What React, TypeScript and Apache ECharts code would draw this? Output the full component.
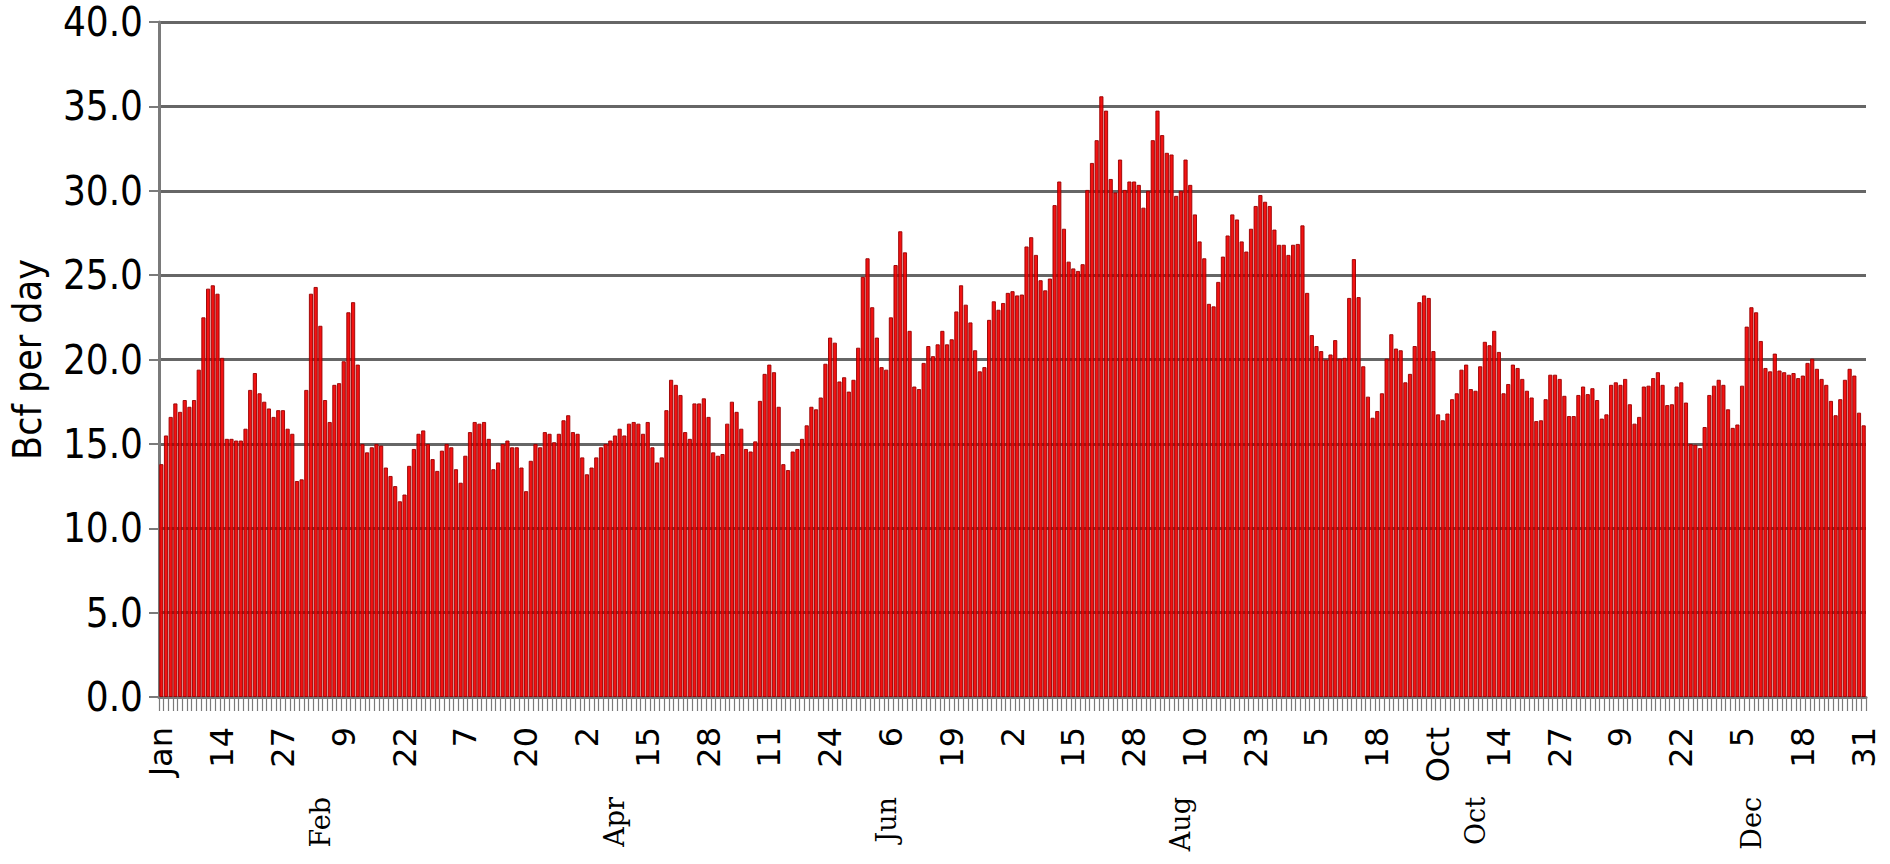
import React, { useEffect, useRef } from "react";
import * as echarts from "echarts";

// ---- data ----
const monthNames = ["Jan", "Feb", "Mar", "Apr", "May", "Jun", "Jul", "Aug", "Sep", "Oct", "Nov", "Dec"];
const monthDays = [31, 28, 31, 30, 31, 30, 31, 31, 30, 31, 30, 31];

const janValues = [13.8, 15.5, 16.6, 17.4, 16.9, 17.6, 17.2, 17.6, 19.4, 22.5, 24.2, 24.4, 23.9, 20.1, 15.3, 15.3, 15.2, 15.2, 15.9, 18.2, 19.2, 18.0, 17.5, 17.1, 16.6, 17.0, 17.0, 15.9, 15.6, 12.8, 12.9];
const febValues = [18.2, 23.9, 24.3, 22.0, 17.6, 16.3, 18.5, 18.6, 19.9, 22.8, 23.4, 19.7, 15.0, 14.5, 14.8, 15.0, 14.9, 13.6, 13.1, 12.5, 11.6, 12.0, 13.7, 14.7, 15.6, 15.8, 15.0, 14.1];
const marValues = [13.4, 14.6, 15.0, 14.8, 13.5, 12.7, 14.3, 15.7, 16.3, 16.2, 16.3, 15.3, 13.5, 13.9, 15.0, 15.2, 14.8, 14.8, 13.6, 12.2, 14.0, 15.0, 14.8, 15.7, 15.6, 15.1, 15.6, 16.4, 16.7, 15.7, 15.6];
const aprValues = [14.2, 13.2, 13.6, 14.2, 14.8, 15.0, 15.2, 15.5, 15.9, 15.5, 16.2, 16.3, 16.2, 15.6, 16.3, 14.8, 13.9, 14.2, 17.0, 18.8, 18.5, 17.9, 15.7, 15.3, 17.4, 17.4, 17.7, 16.6, 14.5, 14.3];
const mayValues = [14.4, 16.2, 17.5, 16.9, 15.9, 14.7, 14.55, 15.15, 17.55, 19.15, 19.7, 19.25, 17.2, 13.8, 13.45, 14.55, 14.7, 15.3, 16.1, 17.2, 17.05, 17.75, 19.75, 21.3, 21.0, 18.7, 18.95, 18.1, 18.8, 20.7, 24.9];
const junValues = [26.0, 23.1, 21.3, 19.55, 19.4, 22.5, 25.6, 27.6, 26.35, 21.7, 18.4, 18.25, 19.8, 20.8, 20.2, 20.9, 21.7, 20.9, 21.2, 22.85, 24.4, 23.25, 22.2, 20.55, 19.3, 19.55, 22.35, 23.45, 22.95, 23.35];
const julValues = [23.95, 24.05, 23.8, 23.85, 26.7, 27.25, 26.2, 24.7, 24.1, 24.8, 29.15, 30.55, 27.75, 25.8, 25.4, 25.25, 25.65, 30.05, 31.65, 33.0, 35.6, 34.75, 30.7, 29.9, 31.85, 30.05, 30.55, 30.55, 30.35, 29.0, 30.0];
const augValues = [33.0, 34.75, 33.3, 32.25, 32.15, 29.7, 30.0, 31.85, 30.35, 28.6, 27.0, 26.0, 23.3, 23.15, 24.6, 26.1, 27.35, 28.6, 28.3, 27.0, 26.4, 27.75, 29.1, 29.75, 29.35, 29.1, 27.7, 26.8, 26.8, 26.2, 26.8];
const sepValues = [26.85, 27.95, 23.95, 21.45, 20.8, 20.5, 20.0, 20.3, 21.15, 20.05, 20.1, 23.65, 25.95, 23.7, 19.6, 17.8, 16.55, 16.95, 18.0, 20.05, 21.5, 20.65, 20.55, 18.65, 19.15, 20.8, 23.4, 23.8, 23.65, 20.5];
const octValues = [16.75, 16.4, 16.8, 17.65, 18.0, 19.4, 19.7, 18.25, 18.15, 19.6, 21.05, 20.85, 21.7, 20.45, 18.0, 18.55, 19.7, 19.5, 18.85, 18.15, 17.75, 16.35, 16.4, 17.65, 19.1, 19.1, 18.85, 17.85, 16.65, 16.65, 17.9];
const novValues = [18.4, 17.95, 18.3, 17.6, 16.5, 16.75, 18.5, 18.65, 18.5, 18.85, 17.35, 16.2, 16.6, 18.4, 18.45, 18.9, 19.25, 18.5, 17.3, 17.35, 18.4, 18.65, 17.45, 15.0, 14.95, 14.75, 16.0, 17.9, 18.45, 18.8];
const decValues = [18.5, 17.05, 15.95, 16.15, 18.45, 21.95, 23.1, 22.8, 21.1, 19.5, 19.3, 20.35, 19.35, 19.25, 19.1, 19.2, 18.9, 19.05, 19.8, 20.05, 19.45, 18.85, 18.5, 17.55, 16.7, 17.65, 18.8, 19.45, 19.05, 16.85, 16.1];

const yTicks = { min: 0, max: 40, step: 5 };
const dayLabelStep = 13;
const monthLabelNames = ["Feb", "Apr", "Jun", "Aug", "Oct", "Dec"];
const monthLabelDays = [34, 97, 155, 218, 281, 340];

// ---- derived ----
const values: number[] = [
  ...janValues, ...febValues, ...marValues, ...aprValues, ...mayValues, ...junValues,
  ...julValues, ...augValues, ...sepValues, ...octValues, ...novValues, ...decValues,
];
const categories: string[] = [];
const shortLabel: Record<string, string> = {};
monthNames.forEach((m, mi) => {
  for (let d = 1; d <= monthDays[mi]; d++) {
    const key = `${m} ${d < 10 ? "0" + d : d}`;
    categories.push(key);
    shortLabel[key] = d === 1 ? m : String(d);
  }
});

const narrowFont = "'Liberation Sans Narrow', 'Arial Narrow', 'DejaVu Sans Condensed', sans-serif";

export default function App() {
  const ref = useRef<HTMLDivElement>(null);
  useEffect(() => {
    if (!ref.current) return;
    const chart = echarts.init(ref.current, undefined, { renderer: "svg" });
    chart.setOption({
      animation: false,
      backgroundColor: "#ffffff",
      grid: { left: 159, right: 24, top: 22, bottom: 167 },
      xAxis: [
        {
          type: "category",
          data: categories,
          boundaryGap: true,
          axisLine: { show: true, lineStyle: { color: "#7a7a7a", width: 3 } },
          axisTick: { show: true, interval: 0, length: 14, lineStyle: { color: "#7a7a7a", width: 1.2 } },
          axisLabel: {
            interval: (i: number) => i % dayLabelStep === 0,
            formatter: (v: string) => shortLabel[v],
            rotate: 90,
            margin: 30,
            fontSize: 32,
            fontFamily: "'DejaVu Sans', sans-serif",
            color: "#000",
          },
          splitLine: { show: false },
        },
        {
          type: "category",
          data: categories,
          position: "bottom",
          boundaryGap: true,
          axisLine: { show: false },
          axisTick: { show: false },
          axisLabel: {
            interval: (i: number) => monthLabelDays.indexOf(i) >= 0,
            formatter: (v: string) => {
              const i = categories.indexOf(v);
              const k = monthLabelDays.indexOf(i);
              return k >= 0 ? monthLabelNames[k] : "";
            },
            rotate: 90,
            margin: 100,
            fontSize: 27,
            fontFamily: "'DejaVu Serif', serif",
            color: "#000",
          },
          splitLine: { show: false },
        },
      ],
      yAxis: {
        type: "value",
        min: yTicks.min,
        max: yTicks.max,
        interval: yTicks.step,
        name: "Bcf per day",
        nameLocation: "middle",
        nameGap: 112,
        nameRotate: 90,
        nameTextStyle: { fontSize: 39, fontFamily: narrowFont, color: "#000" },
        axisLine: { show: true, lineStyle: { color: "#7a7a7a", width: 3 } },
        axisTick: { show: true, length: 10, lineStyle: { color: "#7a7a7a", width: 2 } },
        axisLabel: {
          formatter: (v: number) => v.toFixed(1),
          fontSize: 40,
          fontFamily: narrowFont,
          color: "#000",
          margin: 16,
        },
        splitLine: { show: true, lineStyle: { color: "#666666", width: 3 } },
      },
      series: [
        {
          type: "bar",
          xAxisIndex: 0,
          data: values,
          barCategoryGap: "10%",
          itemStyle: { color: "#f20000", borderColor: "#9c0000", borderWidth: 1, opacity: 0.93 },
        },
      ],
    });
    return () => chart.dispose();
  }, []);
  return (
    <div
      ref={ref}
      style={{ position: "absolute", left: 0, top: 0, width: 1890, height: 864, background: "#fff" }}
    />
  );
}
